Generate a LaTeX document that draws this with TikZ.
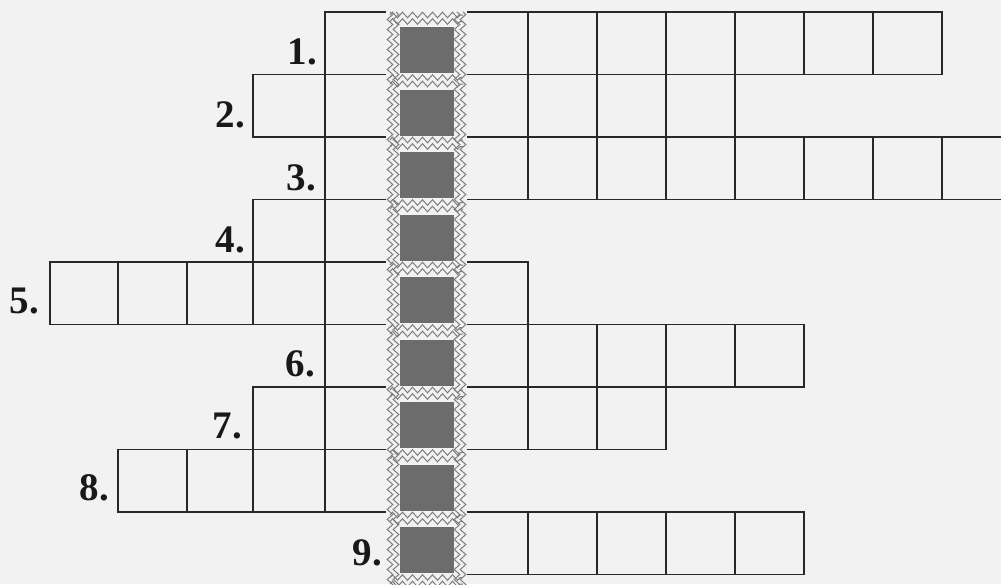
\documentclass[tikz,border=0pt]{standalone}
\usepackage{fontspec}
\setmainfont{Liberation Serif}
\usetikzlibrary{decorations.pathmorphing}
\definecolor{bg}{RGB}{242,242,242}
\definecolor{ink}{RGB}{40,40,40}
\definecolor{zz}{RGB}{125,125,125}
\definecolor{sq}{RGB}{108,108,108}
\tikzset{
  gridline/.style={draw=ink, line width=1.4pt},
  zigline/.style={draw=zz, line width=1pt, decorate,
    decoration={zigzag, segment length=10pt, amplitude=2.8pt}},
  keysq/.style={fill=sq},
  numlabel/.style={font=\fontsize{39}{40}\selectfont\bfseries, inner sep=0pt,
    anchor=base east, text=black!90},
}
\begin{document}
\begin{tikzpicture}[x=1pt,y=-1pt]
\fill[bg] (0,0) rectangle (1001,584);
\useasboundingbox (0,0) rectangle (1001,584);
\clip (0,0) rectangle (1001,584);

% ---- row 1
\draw[gridline] (325,12) rectangle (392,74.5);
\draw[gridline] (461,12) rectangle (942,74.5);
\foreach \x in {528,597,666,735,804,873} \draw[gridline] (\x,12) -- (\x,74.5);
% ---- row 2
\draw[gridline] (253,74.5) rectangle (392,137);
\draw[gridline] (325,74.5) -- (325,137);
\draw[gridline] (461,74.5) rectangle (735,137);
\foreach \x in {528,597,666} \draw[gridline] (\x,74.5) -- (\x,137);
% ---- row 3
\draw[gridline] (325,137) rectangle (392,199.5);
\draw[gridline] (461,137) rectangle (1011,199.5);
\foreach \x in {528,597,666,735,804,873,942} \draw[gridline] (\x,137) -- (\x,199.5);
% ---- row 4
\draw[gridline] (253,199.5) rectangle (392,262);
\draw[gridline] (325,199.5) -- (325,262);
% ---- row 5
\draw[gridline] (50,262) rectangle (392,324.5);
\foreach \x in {118,187,253,325} \draw[gridline] (\x,262) -- (\x,324.5);
\draw[gridline] (461,262) rectangle (528,324.5);
% ---- row 6
\draw[gridline] (325,324.5) rectangle (392,387);
\draw[gridline] (461,324.5) rectangle (804,387);
\foreach \x in {528,597,666,735} \draw[gridline] (\x,324.5) -- (\x,387);
% ---- row 7
\draw[gridline] (253,387) rectangle (392,449.5);
\draw[gridline] (325,387) -- (325,449.5);
\draw[gridline] (461,387) rectangle (666,449.5);
\foreach \x in {528,597} \draw[gridline] (\x,387) -- (\x,449.5);
% ---- row 8
\draw[gridline] (118,449.5) rectangle (392,512);
\foreach \x in {187,253,325} \draw[gridline] (\x,449.5) -- (\x,512);
% ---- row 9
\draw[gridline] (461,512) rectangle (804,574.5);
\foreach \x in {528,597,666,735} \draw[gridline] (\x,512) -- (\x,574.5);

% ---- key strip
\fill[bg] (386,6) rectangle (467,584);
\foreach \k in {1,...,10} {
  \pgfmathsetmacro{\t}{12+62.5*(\k-1)}
  \draw[zigline] (390,\t+3) -- (463,\t+3);
  \draw[zigline] (390,\t+9.5) -- (463,\t+9.5);
  \fill[keysq] (400,\t+15) rectangle (454,\t+61);
}
\foreach \x in {390,396,457,463} \draw[zigline] (\x,12) -- (\x,592);

% ---- labels
\node[numlabel] (l1) at (317,64) {1.};
\node[numlabel] (l2) at (245,127) {2.};
\node[numlabel] (l3) at (316,190) {3.};
\node[numlabel] (l4) at (245,252) {4.};
\node[numlabel] (l5) at (39,313) {5.};
\node[numlabel] (l6) at (315,376) {6.};
\node[numlabel] (l7) at (242,438) {7.};
\node[numlabel] (l8) at (109,500) {8.};
\node[numlabel] (l9) at (382,565) {9.};
\end{tikzpicture}
\end{document}
